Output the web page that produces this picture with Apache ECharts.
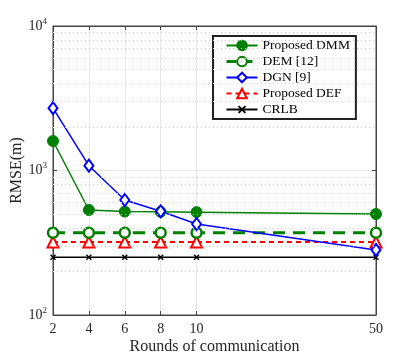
<!DOCTYPE html>
<html>
<head>
<meta charset="utf-8">
<script src="https://cdn.jsdelivr.net/npm/echarts@6/dist/echarts.min.js"></script>
<style>
  html, body { margin: 0; padding: 0; background: #fff; }
  #chart { width: 415px; height: 357px; }
</style>
</head>
<body>
<div id="chart"></div>
<script>
// x slots: 2..18 evenly spaced, last slot stands for 50 rounds
const slots = ['2', '4', '6', '8', '10', '12', '14', '16', '18', '50'];
const shownSlots = ['2', '4', '6', '8', '10', '50'];
const rounds = ['2', '4', '6', '8', '10', '50'];

const dmm = [1600, 533, 520, 518, 515, 500];
const dem = [371, 371, 371, 371, 371, 371];
const dgn = [2700, 1080, 625, 522, 426, 282];
const def = [320, 320, 320, 320, 320, 320];
const crlb = [251, 251, 251, 251, 251, 251];

const minorGrid = [200, 300, 400, 500, 600, 700, 800, 900, 2000, 3000, 4000, 5000, 6000, 7000, 8000, 9000];

const font = 'Liberation Serif';
const axisColor = '#444';

const pairs = (vals) => vals.map((v, i) => [rounds[i], v]);
const showIdx = (idx, val) => shownSlots.includes(val);

const demLine = () => ({ color: '#008000', width: 3, type: [10, 6] });
const defLine = () => ({ color: '#ff0000', width: 1.8, type: [5, 4] });

const chart = echarts.init(document.getElementById('chart'));
chart.setOption({
  animation: false,
  grid: {
    left: 53, right: 39, top: 26, bottom: 42,
    outerBoundsMode: 'none',
    show: true, borderColor: axisColor, borderWidth: 1,
  },
  legend: {
    orient: 'vertical',
    left: 213,
    top: 36,
    data: [
      { name: 'Proposed DMM' },
      { name: 'DEM [12]', lineStyle: demLine() },
      { name: 'DGN [9]' },
      { name: 'Proposed DEF', lineStyle: defLine() },
      { name: 'CRLB' },
    ],
    itemWidth: 31,
    itemHeight: 12,
    itemGap: 1,
    padding: [2, 6, 2, 12],
    backgroundColor: '#fff',
    borderColor: '#222',
    borderWidth: 2,
    borderRadius: 0,
    textStyle: { fontFamily: font, fontSize: 13.5, color: '#000', lineHeight: 15 },
  },
  xAxis: [
    {
      type: 'category',
      data: slots,
      boundaryGap: false,
      name: 'Rounds of communication',
      nameLocation: 'middle',
      nameGap: 24,
      nameMoveOverlap: false,
      nameTextStyle: { fontFamily: font, fontSize: 16, color: '#262626' },
      axisLine: { lineStyle: { color: axisColor } },
      axisTick: { inside: true, length: 4, interval: showIdx, lineStyle: { color: axisColor } },
      axisLabel: { interval: showIdx, margin: 7, fontFamily: font, fontSize: 14, color: '#262626' },
      splitLine: { show: true, interval: showIdx, lineStyle: { color: '#e6e6e6', width: 1 } },
    },
    {
      type: 'category',
      data: slots,
      boundaryGap: false,
      position: 'top',
      axisLine: { lineStyle: { color: axisColor } },
      axisTick: { inside: true, length: 4, interval: showIdx, lineStyle: { color: axisColor } },
      axisLabel: { show: false },
      splitLine: { show: false },
    },
  ],
  yAxis: [
    {
      type: 'log',
      logBase: 10,
      min: 100,
      max: 10000,
      name: 'RMSE(m)',
      nameLocation: 'middle',
      nameGap: 28,
      nameMoveOverlap: false,
      nameTextStyle: { fontFamily: font, fontSize: 16, color: '#262626' },
      axisLine: { show: true, lineStyle: { color: axisColor } },
      axisTick: { show: true, inside: true, length: 4, lineStyle: { color: axisColor } },
      axisLabel: {
        margin: 6,
        fontFamily: font,
        fontSize: 14,
        color: '#262626',
        formatter: (v) => '10{s|' + Math.round(Math.log10(v)) + '}',
        rich: { s: { fontFamily: font, fontSize: 9, color: '#262626', padding: [0, 0, 9, 0] } },
      },
      splitLine: { show: true, lineStyle: { color: '#e6e6e6', width: 1 } },
    },
    {
      type: 'log',
      logBase: 10,
      min: 100,
      max: 10000,
      position: 'right',
      axisLine: { show: true, lineStyle: { color: axisColor } },
      axisTick: { show: true, inside: true, length: 4, lineStyle: { color: axisColor } },
      axisLabel: { show: false },
      splitLine: { show: false },
    },
  ],
  series: [
    {
      name: 'minor grid',
      type: 'line',
      data: [],
      silent: true,
      z: 1,
      markLine: {
        silent: true,
        symbol: 'none',
        label: { show: false },
        animation: false,
        lineStyle: { color: '#cfcfcf', type: [1, 3], width: 1 },
        data: minorGrid.map((v) => ({ yAxis: v })),
      },
    },
    {
      name: 'CRLB',
      type: 'line',
      data: pairs(crlb),
      symbol: 'path://M4,0H6V4H10V6H6V10H4V6H0V4H4Z',
      symbolRotate: 45,
      symbolSize: 7,
      itemStyle: { color: '#000' },
      lineStyle: { color: '#000', width: 1.5 },
    },
    {
      name: 'Proposed DEF',
      type: 'line',
      data: pairs(def),
      symbol: 'triangle',
      symbolSize: 11,
      itemStyle: { color: '#fff', borderColor: '#ff0000', borderWidth: 2 },
      lineStyle: defLine(),
    },
    {
      name: 'DEM [12]',
      type: 'line',
      data: pairs(dem),
      symbol: 'circle',
      symbolSize: 10,
      itemStyle: { color: '#fff', borderColor: '#008000', borderWidth: 2.5 },
      lineStyle: { color: '#008000', width: 3, type: [12, 8] },
    },
    {
      name: 'Proposed DMM',
      type: 'line',
      data: pairs(dmm),
      symbol: 'circle',
      symbolSize: 11,
      itemStyle: { color: '#008000', borderColor: '#008000', borderWidth: 1 },
      lineStyle: { color: '#008000', width: 1.5 },
    },
    {
      name: 'DGN [9]',
      type: 'line',
      data: pairs(dgn),
      symbol: 'diamond',
      symbolSize: [9, 12],
      itemStyle: { color: '#fff', borderColor: '#0000ff', borderWidth: 2 },
      lineStyle: { color: '#0000ff', width: 1.5 },
    },
  ],
});
</script>
</body>
</html>
